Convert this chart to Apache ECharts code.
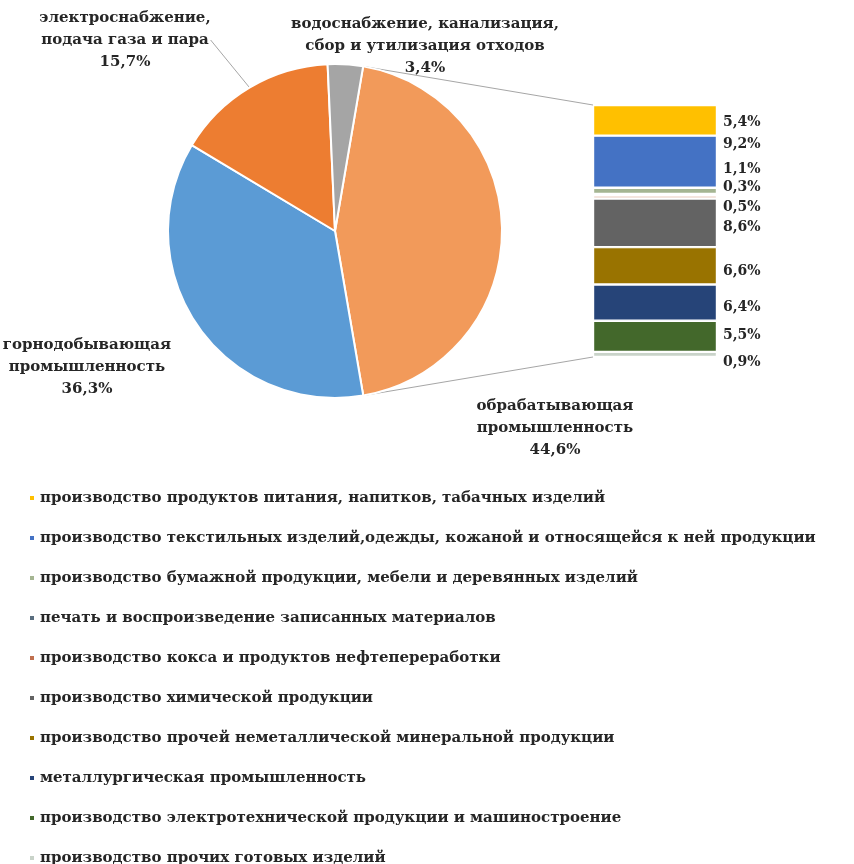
<!DOCTYPE html>
<html><head><meta charset="utf-8">
<script src="https://cdn.jsdelivr.net/npm/echarts@6/dist/echarts.min.js"></script>
<style>html,body{margin:0;padding:0;background:#fff}#c{width:854px;height:864px}</style>
</head><body><div id="c"></div>
<script>
// ---- data ----
const pieNames = [
  'обрабатывающая\nпромышленность',
  'горнодобывающая\nпромышленность',
  'электроснабжение,\nподача газа и пара',
  'водоснабжение, канализация,\nсбор и утилизация отходов'
];
const pieValues = [44.6, 36.3, 15.7, 3.4];

const manuNames = [
  'производство продуктов питания, напитков, табачных изделий',
  'производство текстильных изделий,одежды, кожаной и относящейся к ней продукции',
  'производство бумажной продукции, мебели и деревянных изделий',
  'печать и воспроизведение записанных материалов',
  'производство кокса и продуктов нефтепереработки',
  'производство химической продукции',
  'производство прочей неметаллической минеральной продукции',
  'металлургическая промышленность',
  'производство электротехнической продукции и машиностроение',
  'производство прочих готовых изделий'
];
const manuValues = [5.4, 9.2, 1.1, 0.3, 0.5, 8.6, 6.6, 6.4, 5.5, 0.9];

// ---- styles / layout ----
const FONT = '"DejaVu Serif", serif';
const TXT = '#262626';
const pieColors = ['#F29A5A', '#5B9BD5', '#ED7D31', '#A5A5A5'];
const manuColors = ['#FFC000', '#4472C4', '#A5B592', '#5A6E7F', '#C0704F', '#636363', '#997300', '#264478', '#43682B', '#C9D3C9'];
const PIE_C = [335, 231], PIE_R = 167, START = 80.3;
const GRID = {left: 593, top: 105, width: 124, height: 252};
const pieLabelPos = [[555, 428], [87, 367], [125, 40], [425, 46]];
const pieLabelLine = [false, false, true, false];
const barLabelDy = [2, -17, -21, -7, 10, 5, 6, 5, -1, 8];

const fmt = v => String(v).replace('.', ',') + '%';
const manuTotal = manuValues.reduce((a, b) => a + b, 0);
const pieTotal = pieValues.reduce((a, b) => a + b, 0);

// connector lines from the exploded slice to the bar
const a0 = START * Math.PI / 180;
const a1 = (START - pieValues[0] / pieTotal * 360) * Math.PI / 180;
const pTop = [PIE_C[0] + PIE_R * Math.cos(a0), PIE_C[1] - PIE_R * Math.sin(a0)];
const pBot = [PIE_C[0] + PIE_R * Math.cos(a1), PIE_C[1] - PIE_R * Math.sin(a1)];

const chart = echarts.init(document.getElementById('c'), null, {renderer: 'canvas'});

const barSeries = manuNames.map((n, i) => ({
  type: 'bar', name: n, stack: 's', data: [manuValues[i]],
  barWidth: '100%', xAxisIndex: 0, yAxisIndex: 0,
  itemStyle: {color: manuColors[i], borderColor: '#fff', borderWidth: 1.2},
  label: {
    show: true, position: 'right', distance: 6, offset: [0, barLabelDy[i]],
    formatter: p => fmt(p.value),
    fontFamily: FONT, fontWeight: 'bold', fontSize: 14, color: TXT
  },
  emphasis: {disabled: true}, silent: true
}));

chart.setOption({
  animation: false,
  backgroundColor: '#fff',
  grid: {left: GRID.left, top: GRID.top, width: GRID.width, height: GRID.height},
  xAxis: {type: 'category', data: [''], show: false},
  yAxis: {type: 'value', min: 0, max: manuTotal, inverse: true, show: false},
  legend: {
    data: manuNames, orient: 'vertical', left: 28, top: 489, height: 420,
    icon: 'rect', itemWidth: 6, itemHeight: 6, itemGap: 22, padding: 0,
    selectedMode: false,
    textStyle: {fontFamily: FONT, fontWeight: 'bold', fontSize: 15, color: TXT, lineHeight: 18}
  },
  graphic: [
    {type: 'line', silent: true, z: 0, shape: {x1: pTop[0], y1: pTop[1], x2: GRID.left, y2: GRID.top}, style: {stroke: '#A6A6A6', lineWidth: 1}},
    {type: 'line', silent: true, z: 0, shape: {x1: pBot[0], y1: pBot[1], x2: GRID.left, y2: GRID.top + GRID.height}, style: {stroke: '#A6A6A6', lineWidth: 1}}
  ],
  series: [{
    type: 'pie', center: PIE_C, radius: PIE_R, startAngle: START, clockwise: true,
    silent: true, emphasis: {disabled: true},
    itemStyle: {borderColor: '#fff', borderWidth: 2},
    data: pieNames.map((n, i) => ({
      name: n, value: pieValues[i],
      itemStyle: {color: pieColors[i]},
      labelLine: {show: pieLabelLine[i]}
    })),
    label: {
      show: true, position: 'outside', align: 'center', overflow: 'none',
      formatter: p => p.name + '\n' + fmt(p.value),
      fontFamily: FONT, fontWeight: 'bold', fontSize: 15, lineHeight: 22, color: TXT
    },
    labelLine: {show: true, length: 8, length2: 0, lineStyle: {color: '#A6A6A6', width: 1}},
    labelLayout: p => ({
      x: pieLabelPos[p.dataIndex][0], y: pieLabelPos[p.dataIndex][1],
      align: 'center', verticalAlign: 'middle'
    })
  }].concat(barSeries)
});
</script>
</body></html>
